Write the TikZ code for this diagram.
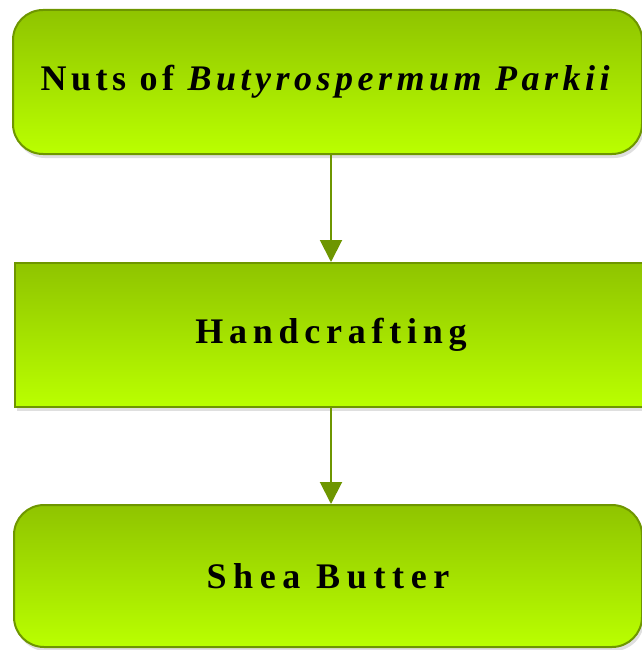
\documentclass[tikz,border=0pt]{standalone}
\usepackage{fontspec}
\setmainfont{Liberation Serif}
\newfontfamily\toplabel[LetterSpace=12.5]{Liberation Serif}
\newfontfamily\steplabel[LetterSpace=16]{Liberation Serif}
\newfontfamily\endlabel[LetterSpace=18.5]{Liberation Serif}
\usetikzlibrary{arrows.meta,shadows}
\definecolor{leafdark}{RGB}{143,196,0}
\definecolor{leaflight}{RGB}{186,255,0}
\definecolor{leafline}{RGB}{110,150,0}
\tikzset{
  stage/.style={draw=leafline, line width=2pt, top color=leafdark, bottom color=leaflight,
    drop shadow={shadow xshift=2pt, shadow yshift=-4pt, opacity=0.25},
    inner sep=0pt, font=\fontsize{36}{40}\selectfont\bfseries},
  roundstage/.style={stage, rounded corners=30pt},
  flow/.style={leafline, line width=2pt, ->}
}
\begin{document}
\begin{tikzpicture}[x=1pt,y=-1pt,>={Triangle[length=22pt,width=22pt]}]
            \useasboundingbox (0,0) rectangle (641,650);

            % draw the three stages
            \node[roundstage, minimum width=629pt, minimum height=144pt] (nuts) at (327.5,82)
                {\toplabel Nuts of \textit{Butyrospermum Parkii}};
            \node[stage, minimum width=632pt, minimum height=144pt] (craft) at (331,335)
                {\steplabel Handcrafting};
            \node[roundstage, minimum width=628pt, minimum height=142pt] (butter) at (328,576)
                {\endlabel Shea Butter};

            % draw the arrows between them
            \draw[flow] (craft.north |- nuts.south) -- (craft.north);
            \draw[flow] (craft.south) -- (craft.south |- butter.north);
        \end{tikzpicture}
\end{document}
